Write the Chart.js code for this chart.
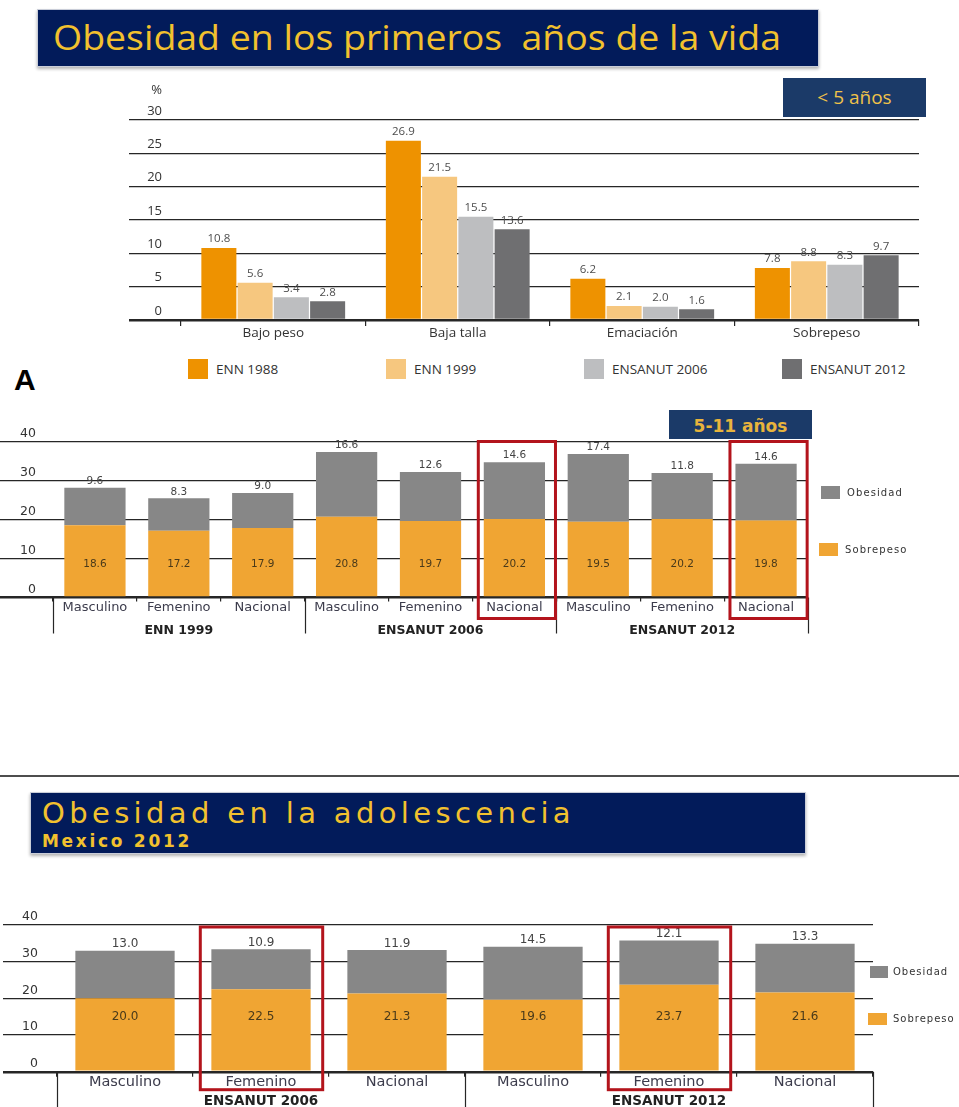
<!DOCTYPE html>
<html lang="es">
<head>
<meta charset="utf-8">
<title>Obesidad en niños y adolescentes</title>
<script src="https://cdn.jsdelivr.net/npm/chart.js@4.4.1/dist/chart.umd.min.js"></script>
<style>
  html, body { margin: 0; padding: 0; background: #fff; }
  body { position: relative; width: 959px; height: 1107px; overflow: hidden; font-family: "Open Sans", sans-serif; }
  canvas { position: absolute; left: 0; }
  .banner { position: absolute; box-sizing: border-box; background: #021b5a; border: 1px solid #c9cdd8;
            box-shadow: 0 2px 3px rgba(0, 0, 0, 0.3); color: #f2c12e; z-index: 2; }
  .banner span { position: absolute; display: inline-block; white-space: pre; line-height: 1; transform-origin: 0 0; }
  .edad { position: absolute; background: #1b3a68; text-align: center; z-index: 2; overflow: hidden; }
  .sw { position: absolute; z-index: 2; }
  .sw-txt { position: absolute; z-index: 2; white-space: pre; color: #333; }
  #letraA { position: absolute; left: 14px; top: 365px; font: bold 30px "Liberation Sans", Arial, sans-serif; line-height: 1; color: #000; }
  #raya { position: absolute; left: 0; top: 775px; width: 959px; height: 2px; background: #4d4d4d; }
</style>
</head>
<body>

<div class="banner" style="left:37px; top:9px; width:782px; height:58px;">
  <span id="titulo1" style="left:15px; top:9px; font-size:35px; font-family:'Open Sans';">Obesidad en los primeros  años de la vida</span>
</div>
<div class="edad" style="left:783px; top:78px; width:143px; height:39px; font:19px/38px 'Open Sans'; color:#f0c24a;">&lt; 5 años</div>

<canvas id="g5" width="959" height="270" style="top:80px"></canvas>
<div id="letraA">A</div>

<div class="edad" style="left:669px; top:410px; width:143px; height:29px; font:bold 17px/33px 'DejaVu Sans'; color:#e8b43c;">5-11 años</div>
<canvas id="gEscolar" width="959" height="240" style="top:400px"></canvas>

<div id="raya"></div>
<div class="banner" style="left:30px; top:792px; width:776px; height:62px;">
  <span id="titulo2" style="left:11px; top:6px; font-size:29px; font-family:'DejaVu Sans';">Obesidad en la adolescencia</span>
  <span id="subtitulo2" style="left:11px; top:40px; font-size:17px; font-weight:bold; font-family:'DejaVu Sans';">Mexico 2012</span>
</div>
<canvas id="gAdol" width="959" height="207" style="top:900px"></canvas>

<script>
// menores de 5 años
const categorias5 = ['Bajo peso', 'Baja talla', 'Emaciación', 'Sobrepeso'];
const encuestas5 = ['ENN 1988', 'ENN 1999', 'ENSANUT 2006', 'ENSANUT 2012'];
const enn1988 = [10.8, 26.9, 6.2, 7.8];
const enn1999 = [5.6, 21.5, 2.1, 8.8];
const ensanut2006 = [3.4, 15.5, 2.0, 8.3];
const ensanut2012 = [2.8, 13.6, 1.6, 9.7];
const ticks5 = [0, 5, 10, 15, 20, 25, 30];

// escolares 5-11 años
const sexos = ['Masculino', 'Femenino', 'Nacional'];
const encuestasEscolar = ['ENN 1999', 'ENSANUT 2006', 'ENSANUT 2012'];
const sobrepesoEscolar = [18.6, 17.2, 17.9, 20.8, 19.7, 20.2, 19.5, 20.2, 19.8];
const obesidadEscolar = [9.6, 8.3, 9.0, 16.6, 12.6, 14.6, 17.4, 11.8, 14.6];
const resaltadosEscolar = [5, 8];

// adolescentes
const encuestasAdol = ['ENSANUT 2006', 'ENSANUT 2012'];
const sobrepesoAdol = [20.0, 22.5, 21.3, 19.6, 23.7, 21.6];
const obesidadAdol = [13.0, 10.9, 11.9, 14.5, 12.1, 13.3];
const resaltadosAdol = [1, 4];
const ticks40 = [0, 10, 20, 30, 40];

const coloresEncuesta = ['#ee9200', '#f6c77f', '#bdbec0', '#6f6f71'];
const colorObesidad = '#878787';
const colorSobrepeso = '#f0a533';

// etiquetas del eje y encima de cada linea
const yText = {
  id: 'yText',
  afterDraw(chart, args, o) {
    const y = chart.scales.y, ctx = chart.ctx;
    ctx.save();
    ctx.font = o.font;
    ctx.fillStyle = o.color;
    ctx.textAlign = 'right';
    ctx.textBaseline = 'middle';
    y.ticks.forEach(t => ctx.fillText(String(t.value), o.x, y.getPixelForValue(t.value) + o.dy));
    if (o.unit) ctx.fillText(o.unit, o.x, y.getPixelForValue(y.max) + o.unitDy);
    ctx.restore();
  }
};

// valores sobre / dentro de las barras
const valueText = {
  id: 'valueText',
  afterDatasetsDraw(chart, args, o) {
    const ctx = chart.ctx;
    ctx.save();
    ctx.textAlign = 'center';
    ctx.textBaseline = 'middle';
    chart.data.datasets.forEach((ds, i) => {
      const dentro = o.inside && o.inside.dataset === i;
      const st = dentro ? o.inside : o.top;
      ctx.font = st.font;
      ctx.fillStyle = st.color;
      chart.getDatasetMeta(i).data.forEach((bar, j) => {
        const y = dentro ? bar.base + st.dy : bar.y + st.dy;
        ctx.fillText(ds.data[j].toFixed(1), bar.x, y);
      });
    });
    ctx.restore();
  }
};

// separadores de encuesta, nombre de la encuesta y recuadros rojos
const grupos = {
  id: 'grupos',
  afterDraw(chart, args, o) {
    const x = chart.scales.x, area = chart.chartArea, ctx = chart.ctx;
    const w = (x.right - x.left) / chart.data.labels.length;
    ctx.save();
    ctx.strokeStyle = o.color;
    ctx.lineWidth = o.lineWidth;
    for (let g = 0; g <= o.names.length; g++) {
      const px = Math.round(x.left + g * o.size * w) + 0.5;
      ctx.beginPath();
      ctx.moveTo(px, area.bottom);
      ctx.lineTo(px, area.bottom + o.length);
      ctx.stroke();
    }
    ctx.font = o.font;
    ctx.fillStyle = o.textColor;
    ctx.textAlign = 'center';
    ctx.textBaseline = 'middle';
    o.names.forEach((n, g) => ctx.fillText(n, x.left + (g * o.size + o.size / 2) * w, area.bottom + o.dy));
    ctx.strokeStyle = o.boxColor;
    ctx.lineWidth = o.boxWidth;
    o.highlight.forEach(i => {
      const cx = x.getPixelForValue(i) + o.boxShift;
      const top = area.top + o.boxTop;
      ctx.strokeRect(cx - o.boxHalf * w, top, 2 * o.boxHalf * w, area.bottom + o.boxBottom - top);
    });
    ctx.restore();
  }
};

function ejeY(valores, ancho, largo) {
  return {
    min: valores[0],
    max: valores[valores.length - 1],
    afterBuildTicks: s => { s.ticks = valores.map(v => ({ value: v })); },
    ticks: { display: false },
    border: { display: false },
    grid: {
      color: '#262626',
      lineWidth: c => (c.tick && c.tick.value === 0 ? 2.4 : 1.2),
      tickLength: largo
    },
    afterFit: s => { s.width = ancho; }
  };
}

function ejeX(alto, font, color, tl, pad, stacked) {
  return {
    stacked: stacked,
    border: { display: false },
    grid: { offset: true, drawOnChartArea: false, tickLength: tl, color: '#262626', lineWidth: 1.2 },
    ticks: { font: font, color: color, padding: pad, maxRotation: 0, autoSkip: false },
    afterFit: s => { s.height = alto; }
  };
}

Chart.defaults.animation = false;

// < 5 años
new Chart(document.getElementById('g5'), {
  type: 'bar',
  data: {
    labels: categorias5,
    datasets: [enn1988, enn1999, ensanut2006, ensanut2012].map((d, i) => ({
      label: encuestas5[i], data: d, backgroundColor: coloresEncuesta[i]
    }))
  },
  options: {
    responsive: false,
    layout: { padding: { top: 40, right: 40, bottom: 0, left: 0 } },
    datasets: { bar: { categoryPercentage: 0.786, barPercentage: 0.966 } },
    plugins: {
      legend: { display: false },
      tooltip: { enabled: false },
      yText: { x: 162, dy: -9, font: '13px "Open Sans"', color: '#333', unit: '%', unitDy: -30 },
      valueText: { top: { dy: -9, font: '11.5px "Open Sans"', color: '#4d4d4d' } }
    },
    scales: {
      x: ejeX(30, { family: 'Open Sans', size: 13.5 }, '#333', 6, -1, false),
      y: ejeY(ticks5, 181, 52)
    }
  },
  plugins: [yText, valueText]
});

// 5-11 años
new Chart(document.getElementById('gEscolar'), {
  type: 'bar',
  data: {
    labels: encuestasEscolar.flatMap(() => sexos),
    datasets: [
      { label: 'Sobrepeso', data: sobrepesoEscolar, backgroundColor: colorSobrepeso },
      { label: 'Obesidad', data: obesidadEscolar, backgroundColor: colorObesidad }
    ]
  },
  options: {
    responsive: false,
    layout: { padding: { top: 42, right: 151, bottom: 0, left: 0 } },
    datasets: { bar: { categoryPercentage: 1, barPercentage: 0.73 } },
    plugins: {
      legend: { display: false },
      tooltip: { enabled: false },
      yText: { x: 36, dy: -8, font: '12.5px "DejaVu Sans"', color: '#333' },
      valueText: {
        top: { dy: -6.5, font: '10.5px "DejaVu Sans"', color: '#444' },
        inside: { dataset: 0, dy: -32, font: '10.5px "DejaVu Sans"', color: '#4a3a1a' }
      },
      grupos: {
        names: encuestasEscolar, size: 3, length: 36, color: '#262626', lineWidth: 1.2,
        font: 'bold 12.5px "DejaVu Sans"', textColor: '#222', dy: 33,
        highlight: resaltadosEscolar, boxHalf: 0.46, boxShift: 2.5, boxTop: -0.5, boxBottom: 21,
        boxColor: '#b3141c', boxWidth: 3
      }
    },
    scales: {
      x: ejeX(42.5, { family: 'DejaVu Sans', size: 13 }, '#3c3c4c', 4, -1.5, true),
      y: Object.assign(ejeY(ticks40, 53, 53), { stacked: true })
    }
  },
  plugins: [yText, valueText, grupos]
});

// adolescentes
new Chart(document.getElementById('gAdol'), {
  type: 'bar',
  data: {
    labels: encuestasAdol.flatMap(() => sexos),
    datasets: [
      { label: 'Sobrepeso', data: sobrepesoAdol, backgroundColor: colorSobrepeso },
      { label: 'Obesidad', data: obesidadAdol, backgroundColor: colorObesidad }
    ]
  },
  options: {
    responsive: false,
    layout: { padding: { top: 25, right: 86, bottom: 0, left: 0 } },
    datasets: { bar: { categoryPercentage: 1, barPercentage: 0.73 } },
    plugins: {
      legend: { display: false },
      tooltip: { enabled: false },
      yText: { x: 38, dy: -8, font: '12.5px "DejaVu Sans"', color: '#333' },
      valueText: {
        top: { dy: -6.5, font: '12px "DejaVu Sans"', color: '#444' },
        inside: { dataset: 0, dy: -54, font: '12px "DejaVu Sans"', color: '#4a3a1a' }
      },
      grupos: {
        names: encuestasAdol, size: 3, length: 40, color: '#262626', lineWidth: 1.2,
        font: 'bold 13.5px "DejaVu Sans"', textColor: '#222', dy: 30,
        highlight: resaltadosAdol, boxHalf: 0.45, boxShift: 0.5, boxTop: 2, boxBottom: 18,
        boxColor: '#b3141c', boxWidth: 3
      }
    },
    scales: {
      x: ejeX(35.3, { family: 'DejaVu Sans', size: 14.5 }, '#3c3c4c', 5, -3, true),
      y: Object.assign(ejeY(ticks40, 57, 54), { stacked: true })
    }
  },
  plugins: [yText, valueText, grupos]
});

// leyendas
function leyenda(nombres, colores, cajas, font, espaciado) {
  nombres.forEach((n, i) => {
    const c = cajas[i];
    const sw = document.createElement('div');
    sw.className = 'sw';
    Object.assign(sw.style, { left: c.x + 'px', top: c.y + 'px', width: c.w + 'px', height: c.h + 'px', background: colores[i] });
    const t = document.createElement('div');
    t.className = 'sw-txt';
    t.textContent = n;
    Object.assign(t.style, { left: c.tx + 'px', top: c.y + 'px', height: c.h + 'px', font: font, lineHeight: c.h + 'px', letterSpacing: espaciado });
    document.body.appendChild(sw);
    document.body.appendChild(t);
  });
}

leyenda(encuestas5, coloresEncuesta,
  encuestas5.map((n, i) => ({ x: 188 + i * 198, y: 359, w: 20, h: 20, tx: 216 + i * 198 })),
  '13.5px "Open Sans"', '0px');
leyenda(['Obesidad', 'Sobrepeso'], [colorObesidad, colorSobrepeso],
  [{ x: 821, y: 486, w: 19, h: 13, tx: 847 }, { x: 819, y: 543, w: 19, h: 13, tx: 845 }],
  '10px "DejaVu Sans"', '1.1px');
leyenda(['Obesidad', 'Sobrepeso'], [colorObesidad, colorSobrepeso],
  [{ x: 870, y: 966, w: 18, h: 12, tx: 893 }, { x: 868, y: 1013, w: 19, h: 12, tx: 893 }],
  '10px "DejaVu Sans"', '1px');

// ajuste del ancho de los titulos
function escalar(el, ancho) {
  el.style.transform = 'scaleX(' + (ancho / el.getBoundingClientRect().width) + ')';
}
function espaciar(el, ancho) {
  const w = el.getBoundingClientRect().width;
  el.style.letterSpacing = ((ancho - w) / el.textContent.length) + 'px';
}
escalar(document.getElementById('titulo1'), 728);
espaciar(document.getElementById('titulo2'), 533);
espaciar(document.getElementById('subtitulo2'), 150);
</script>
</body>
</html>
